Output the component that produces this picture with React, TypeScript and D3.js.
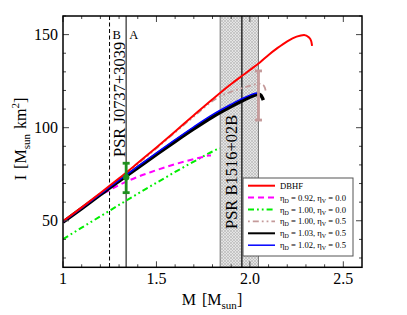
import React from 'react';
import * as d3 from 'd3';

// ---- data ----
const xTickVals = [1, 1.5, 2, 2.5];
const xTickLabels = ['1', '1.5', '2.0', '2.5'];
const yTickVals = [50, 100, 150];
const yTickLabels = ['50', '100', '150'];

const dbhfM = [1.0, 1.1, 1.2, 1.3, 1.338, 1.4, 1.5, 1.6, 1.7, 1.8, 1.9, 1.96, 2.0, 2.055, 2.1, 2.145, 2.2, 2.25, 2.29, 2.315, 2.328, 2.333];
const dbhfI = [49.7, 57.2, 64.9, 72.8, 75.8, 81.0, 89.4, 98.0, 106.7, 115.3, 123.5, 128.0, 131.0, 135.2, 139.1, 142.6, 146.4, 148.9, 149.8, 148.6, 146.6, 144.0];

const magM = [1.0, 1.1, 1.2, 1.25, 1.3, 1.338, 1.4, 1.466, 1.5, 1.6, 1.7, 1.75, 1.78, 1.792];
const magI = [49.3, 56.6, 63.7, 66.5, 69.2, 71.0, 73.6, 76.0, 77.2, 80.4, 83.1, 84.3, 85.0, 85.0];

const grnM = [1.0, 1.1, 1.2, 1.3, 1.338, 1.4, 1.5, 1.6, 1.7, 1.8, 1.83, 1.84];
const grnI = [40.1, 46.3, 52.4, 58.5, 60.8, 64.5, 70.4, 76.2, 81.8, 87.2, 88.6, 88.9];

const rosyM = [1.0, 1.2, 1.4, 1.6, 1.7, 1.8, 1.85, 1.9, 1.95, 2.0, 2.046, 2.07, 2.08, 2.085];
const rosyI = [49.4, 64.5, 80.5, 97.5, 106.0, 114.3, 117.3, 119.3, 121.0, 122.5, 123.6, 123.0, 121.5, 119.8];

const blkM = [1.0, 1.1, 1.2, 1.3, 1.338, 1.4, 1.5, 1.6, 1.7, 1.8, 1.9, 1.95, 2.0, 2.03, 2.045, 2.058, 2.066, 2.072];
const blkI = [49.3, 56.6, 64.0, 71.3, 74.0, 78.5, 85.6, 92.6, 99.4, 105.8, 111.4, 114.0, 116.4, 117.6, 118.0, 117.5, 116.2, 114.8];

const bluM = [1.0, 1.1, 1.2, 1.3, 1.338, 1.4, 1.5, 1.6, 1.7, 1.8, 1.9, 1.95, 2.0, 2.03, 2.04];
const bluI = [49.4, 56.8, 64.3, 71.8, 74.6, 79.2, 86.5, 93.6, 100.5, 107.0, 112.6, 115.2, 117.5, 118.5, 118.6];

const psrAM = 1.338;
const psrBM = 1.249;
const bandM = [1.841, 1.957, 2.046];

const errAM = 1.338;
const errAI = [65.1, 73.4, 80.9];
const errBM = 2.046;
const errBI = [104.1, 118.0, 130.5];

const legendLabels = [
  ['DBHF'],
  ['0.92', '0.0'],
  ['1.00', '0.0'],
  ['1.00', '0.5'],
  ['1.03', '0.5'],
  ['1.02', '0.5'],
];

const FONT = "'Liberation Serif', 'Times New Roman', serif";

export default function App() {
  const x = d3.scaleLinear().domain([1, 2.6]).range([63, 362]);
  const y = d3.scaleLinear().domain([25, 160]).range([267.3, 16]);

  const line = (ms: number[], is: number[]) =>
    d3.line<number>().x((_, i) => x(ms[i])).y((d) => y(d)).curve(d3.curveMonotoneX)(is) || '';

  const styles = [
    { color: '#ff0000', w: 2, dash: undefined as string | undefined },
    { color: '#ff00ff', w: 2, dash: '6,4' },
    { color: '#00ee00', w: 2, dash: '6,3,1.8,3,1.8,3' },
    { color: '#c49a9a', w: 1.8, dash: '1.8,3,6,3,1.8,3' },
    { color: '#000000', w: 3.5, dash: undefined },
    { color: '#0000ff', w: 1.5, dash: undefined },
  ];
  const series = [
    [dbhfM, dbhfI], [magM, magI], [grnM, grnI], [rosyM, rosyI], [blkM, blkI], [bluM, bluI],
  ];
  const drawOrder = [2, 1, 3, 4, 5, 0];

  const [x0, x1] = x.range();
  const [yb, yt] = y.range();

  const xMinor = d3.range(10, 26).map((v) => v / 10);
  const yMinor = d3.range(30, 161, 10);

  const bandL = x(bandM[0]), bandC = x(bandM[1]), bandR = x(bandM[2]);

  const legX = 243, legY = 178, legW = 110, legH = 78;

  return (
    <svg width={407} height={315} style={{ position: 'absolute', left: 0, top: 0 }} fontFamily={FONT}>
      <defs>
        <pattern id="hatch" width="3" height="3" patternUnits="userSpaceOnUse">
          <rect width="3" height="3" fill="#e4e4e4" />
          <path d="M0,0 L3,3 M3,0 L0,3" stroke="#b4b4b4" strokeWidth="0.6" />
        </pattern>
        <clipPath id="plot">
          <rect x={x0} y={yt} width={x1 - x0} height={yb - yt} />
        </clipPath>
      </defs>
      <rect width={407} height={315} fill="#fff" />

      {/* band */}
      <rect x={bandL} y={yt} width={bandR - bandL} height={yb - yt} fill="url(#hatch)" />
      <line x1={bandL} x2={bandL} y1={yt} y2={yb} stroke="#777" strokeWidth={1} />
      <line x1={bandR} x2={bandR} y1={yt} y2={yb} stroke="#777" strokeWidth={1} />
      <line x1={bandC} x2={bandC} y1={yt} y2={yb} stroke="#333" strokeWidth={1.6} />

      {/* pulsar lines */}
      <line x1={x(psrBM)} x2={x(psrBM)} y1={yt} y2={yb} stroke="#000" strokeWidth={1} strokeDasharray="4,2.5" />
      <line x1={x(psrAM)} x2={x(psrAM)} y1={yt} y2={yb} stroke="#555" strokeWidth={1.5} />
      <text x={x(psrBM) + 3} y={39} fontSize={12.5}>B</text>
      <text x={x(psrAM) + 3} y={39} fontSize={12.5}>A</text>
      <text transform={`translate(${x(psrAM) - 1.5},157) rotate(-90)`} fontSize={16.5}>PSR J0737+3039</text>
      <text transform={`translate(${(bandL + bandC) / 2 + 6},229) rotate(-90)`} fontSize={16.5}>PSR B1516+02B</text>

      {/* curves */}
      <g clipPath="url(#plot)">
        {drawOrder.map((k) => (
          <path key={k} d={line(series[k][0], series[k][1])} fill="none" stroke={styles[k].color}
            strokeWidth={styles[k].w} strokeDasharray={styles[k].dash} strokeLinejoin="round" />
        ))}
      </g>

      {/* error bars */}
      {[
        { m: errBM, v: errBI, c: '#c49a9a', dot: false },
        { m: errAM, v: errAI, c: '#1f8f1f', dot: true },
      ].map((e, i) => (
        <g key={i} stroke={e.c} strokeWidth={2.8}>
          <line x1={x(e.m)} x2={x(e.m)} y1={y(e.v[0])} y2={y(e.v[2])} />
          <line x1={x(e.m) - 3.5} x2={x(e.m) + 3.5} y1={y(e.v[0])} y2={y(e.v[0])} />
          <line x1={x(e.m) - 3.5} x2={x(e.m) + 3.5} y1={y(e.v[2])} y2={y(e.v[2])} />
          {e.dot && <circle cx={x(e.m)} cy={y(e.v[1])} r={3.2} fill={e.c} stroke="none" />}
        </g>
      ))}

      {/* legend */}
      <rect x={legX} y={legY} width={legW} height={legH} fill="#fff" stroke="#555" strokeWidth={1} />
      {legendLabels.map((lab, i) => {
        const ly = legY + 7.7 + i * 11.9;
        const s = styles[i];
        return (
          <g key={i}>
            <line x1={legX + 5} x2={legX + 32} y1={ly} y2={ly} stroke={s.color} strokeWidth={Math.min(s.w, 2)}
              strokeDasharray={s.dash} />
            {lab.length === 1 ? (
              <text x={legX + 37} y={ly + 3} fontSize={8.6}>{lab[0]}</text>
            ) : (
              <text x={legX + 37} y={ly + 3} fontSize={8.6}>
                η<tspan fontSize={6} dy={2}>D</tspan><tspan dy={-2}>{` = ${lab[0]}, η`}</tspan>
                <tspan fontSize={6} dy={2}>V</tspan><tspan dy={-2}>{` = ${lab[1]}`}</tspan>
              </text>
            )}
          </g>
        );
      })}

      {/* ticks */}
      <g stroke="#444" strokeWidth={1}>
        {xMinor.map((v) => {
          const major = Math.abs(v * 2 - Math.round(v * 2)) < 1e-6;
          const L = major ? 6 : 3;
          return (
            <g key={'x' + v}>
              <line x1={x(v)} x2={x(v)} y1={yb} y2={yb - L} />
              <line x1={x(v)} x2={x(v)} y1={yt} y2={yt + L} />
            </g>
          );
        })}
        {yMinor.map((v) => {
          const major = v % 50 === 0;
          const L = major ? 6 : 3;
          return (
            <g key={'y' + v}>
              <line x1={x0} x2={x0 + L} y1={y(v)} y2={y(v)} />
              <line x1={x1} x2={x1 - L} y1={y(v)} y2={y(v)} />
            </g>
          );
        })}
      </g>
      <rect x={x0} y={yt} width={x1 - x0} height={yb - yt} fill="none" stroke="#000" strokeWidth={1.5} />

      {/* tick labels */}
      {xTickVals.map((v, i) => (
        <text key={'xl' + v} x={x(v)} y={284} fontSize={16} textAnchor="middle">{xTickLabels[i]}</text>
      ))}
      {yTickVals.map((v, i) => (
        <text key={'yl' + v} x={58} y={y(v) + 5.5} fontSize={16} textAnchor="end">{yTickLabels[i]}</text>
      ))}

      {/* axis titles */}
      <text x={212} y={305} fontSize={16} textAnchor="middle">
        M<tspan dx={6}>[M</tspan><tspan fontSize={11} dy={4}>sun</tspan><tspan dy={-4}>]</tspan>
      </text>
      <text transform="translate(26,139) rotate(-90)" fontSize={16} textAnchor="middle">
        I<tspan dx={6}>[M</tspan><tspan fontSize={11} dy={4}>sun</tspan><tspan dy={-4} dx={5}>km</tspan>
        <tspan fontSize={11} dy={-7}>2</tspan><tspan dy={7}>]</tspan>
      </text>
    </svg>
  );
}
